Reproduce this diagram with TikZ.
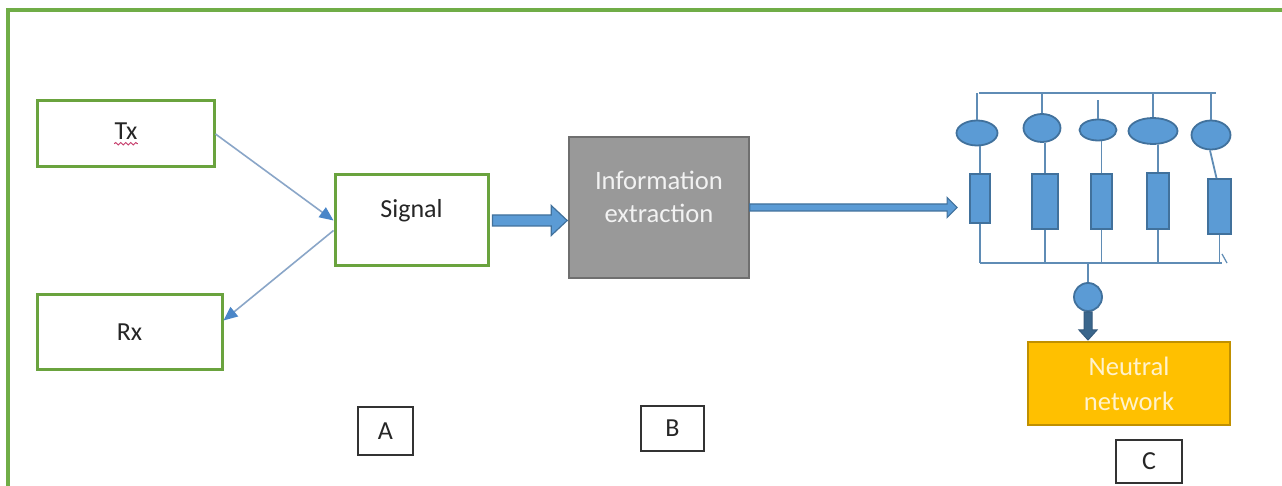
\documentclass[tikz,border=0pt]{standalone}
\usepackage{fontspec}
\setmainfont{Carlito}
\usetikzlibrary{shapes.geometric,arrows.meta,calc,decorations.pathmorphing}

\definecolor{framegreen}{HTML}{70AD47}
\definecolor{boxgreen}{HTML}{6AA33E}
\definecolor{wireblue}{HTML}{8AA6C8}
\definecolor{tipblue}{HTML}{4A86C8}
\definecolor{cellblue}{HTML}{5B9BD5}
\definecolor{celledge}{HTML}{41719C}
\definecolor{netwire}{HTML}{5F8CB5}
\definecolor{infogray}{HTML}{999999}
\definecolor{infoedge}{HTML}{6F6F6F}
\definecolor{nnfill}{HTML}{FFC000}
\definecolor{nnedge}{HTML}{C09000}
\definecolor{nntext}{HTML}{FFF2CC}
\definecolor{spellred}{HTML}{C8406E}

% horizontal block arrow: style, start, end, shaft half-height, head half-height, head length
\newcommand\hblockarrow[6]{%
  \path[#1] let \p1=(#2), \p2=(#3) in
    (\x1,\y1+#4) -- (\x2-#6,\y1+#4) -- (\x2-#6,\y1+#5) -- (\x2,\y1)
    -- (\x2-#6,\y1-#5) -- (\x2-#6,\y1-#4) -- (\x1,\y1-#4) -- cycle;}
% downward block arrow: style, start, end, shaft half-width, head half-width, head length
\newcommand\vblockarrow[6]{%
  \path[#1] let \p1=(#2), \p2=(#3) in
    (\x1-#4,\y1) -- (\x1-#4,\y2+#6) -- (\x1-#5,\y2+#6) -- (\x1,\y2)
    -- (\x1+#5,\y2+#6) -- (\x1+#4,\y2+#6) -- (\x1+#4,\y1) -- cycle;}

\tikzset{
  greenbox/.style={draw=boxgreen, line width=1.5pt, fill=white, inner sep=0pt,
    font=\fontsize{13}{15}\selectfont, text=black!85},
  tagbox/.style={draw=black!80, line width=0.8pt, fill=white, inner sep=0pt,
    font=\fontsize{13}{15}\selectfont, text=black!85},
  thinlink/.style={draw=wireblue, line width=0.8pt,
    -{Triangle[length=7pt,width=6pt,color=tipblue,fill=tipblue]}},
  blockarrow/.style={fill=cellblue, draw=celledge, line width=0.6pt},
  cell/.style={draw=celledge, fill=cellblue, line width=0.9pt, inner sep=0pt},
  wire/.style={draw=netwire, line width=0.9pt},
}

\begin{document}
\begin{tikzpicture}[x=0.5pt,y=-0.5pt]
\useasboundingbox (0,0) rectangle (1282,486);
\fill[white] (0,0) rectangle (1282,486);

% outer frame, open on the right and bottom
\begin{scope}
  \clip (0,0) rectangle (1282,486);
  \draw[framegreen, line width=1.6pt] (8,10) rectangle (1300,520);
\end{scope}

% stage A
\node[greenbox, minimum width=88.5pt, minimum height=33pt] (tx) at (125.5,134) {};
\node[font=\fontsize{13}{15}\selectfont, text=black!85, inner sep=0pt] (txtext) at (126,131) {Tx};
\draw[spellred, line width=0.5pt, decorate,
  decoration={snake, amplitude=0.6pt, segment length=2.5pt}]
  ([yshift=-2pt]txtext.south west) -- ([yshift=-2pt]txtext.south east);
\node[greenbox, minimum width=92.5pt, minimum height=37.5pt] (rx) at (129.5,332.5) {Rx};
\node[greenbox, minimum width=76.5pt, minimum height=45.5pt,
  label={[font=\fontsize{13}{15}\selectfont, text=black!85, yshift=5pt]center:Signal}]
  (sig) at (411.5,220.5) {};

\draw[thinlink] (tx.east) -- (sig.west);
\draw[thinlink] ([yshift=-5pt]sig.west) -- ([yshift=6pt]rx.east);

% stage B
\node[draw=infoedge, fill=infogray, line width=0.8pt, inner sep=0pt,
  minimum width=90pt, minimum height=70.5pt] (info) at (659,207.5) {};
\node[text=white!95!black, align=center, inner sep=0pt,
  font=\fontsize{13.3}{16.5}\selectfont] (infotext) at (659,197) {Information\\extraction};

\hblockarrow{blockarrow}{[xshift=1.5pt]sig.east}{[xshift=-0.5pt]info.west}{2.75pt}{7.5pt}{8pt}

% stage C: bank of cells
\node[cell, ellipse, minimum width=20.5pt, minimum height=12.5pt] (e1) at (977,133) {};
\node[cell, ellipse, minimum width=18.5pt, minimum height=14pt] (e2) at (1042,128) {};
\node[cell, ellipse, minimum width=18.5pt, minimum height=10.5pt] (e3) at (1098,130) {};
\node[cell, ellipse, minimum width=24.5pt, minimum height=13pt] (e4) at (1153,131) {};
\node[cell, ellipse, minimum width=19.5pt, minimum height=14.5pt] (e5) at (1211,135) {};

\node[cell, rectangle, minimum width=10pt, minimum height=24.5pt] (r1) at (980,198.5) {};
\node[cell, rectangle, minimum width=13pt, minimum height=27.5pt] (r2) at (1045,201.5) {};
\node[cell, rectangle, minimum width=10.5pt, minimum height=27.5pt] (r3) at (1101.5,201.5) {};
\node[cell, rectangle, minimum width=11pt, minimum height=28pt] (r4) at (1158,201) {};
\node[cell, rectangle, minimum width=11.5pt, minimum height=27.5pt] (r5) at (1219.5,206.5) {};

\coordinate (tl) at (979,93);
\coordinate (tr) at (1216,93);
\coordinate (s3) at (1101,100);
\coordinate (bl) at (980,263);
\coordinate (br) at (1222,263);
\coordinate (bm) at (1088,263);

\draw[wire] (tl) -- (tr);
\foreach \i in {1,2,4,5}{\draw[wire] (e\i.north) -- (e\i.north |- tl);}
\draw[wire] (e3.north) -- (e3.north |- s3);
\foreach \i in {1,...,4}{
  \draw[wire] (r\i.north) -- (r\i.north |- e\i.south);
}
\draw[wire] ([xshift=-1.5pt]r5.north) -- ([xshift=-0.5pt]e5.south);
\foreach \i in {1,...,5}{
  \draw[wire] (r\i.south) -- (r\i.south |- bl);
}
\draw[wire] (bl) -- (br);
\draw[wire, line width=0.6pt] ([shift={(0,-9)}]br) -- ([shift={(5,0)}]br);

\hblockarrow{blockarrow}{info.east}{[xshift=-6pt]r1.west}{1.75pt}{5pt}{5pt}

% pooling node and network block
\node[cell, circle, minimum size=14pt] (hub) at (1088,297) {};
\draw[wire] (bm) -- (hub.north);

\node[draw=nnedge, fill=nnfill, line width=1pt, inner sep=0pt,
  minimum width=101pt, minimum height=41.5pt, align=center, text=nntext,
  font=\fontsize{13.3}{17.5}\selectfont] (nn) at (1129,383.5) {Neutral\\network};

\vblockarrow{fill=celledge!90!black, draw=celledge!80!black, line width=0.5pt}{hub.south}{[yshift=0.5pt]nn.north -| hub.south}{2pt}{4.5pt}{5pt}

% stage tags
\node[tagbox, minimum width=27.5pt, minimum height=24pt] (tagA) at (385.5,431) {A};
\node[tagbox, minimum width=31.5pt, minimum height=22.5pt] (tagB) at (672.5,428.5) {B};
\node[tagbox, minimum width=33pt, minimum height=21.5pt] (tagC) at (1149,461.5) {C};
\end{tikzpicture}
\end{document}
